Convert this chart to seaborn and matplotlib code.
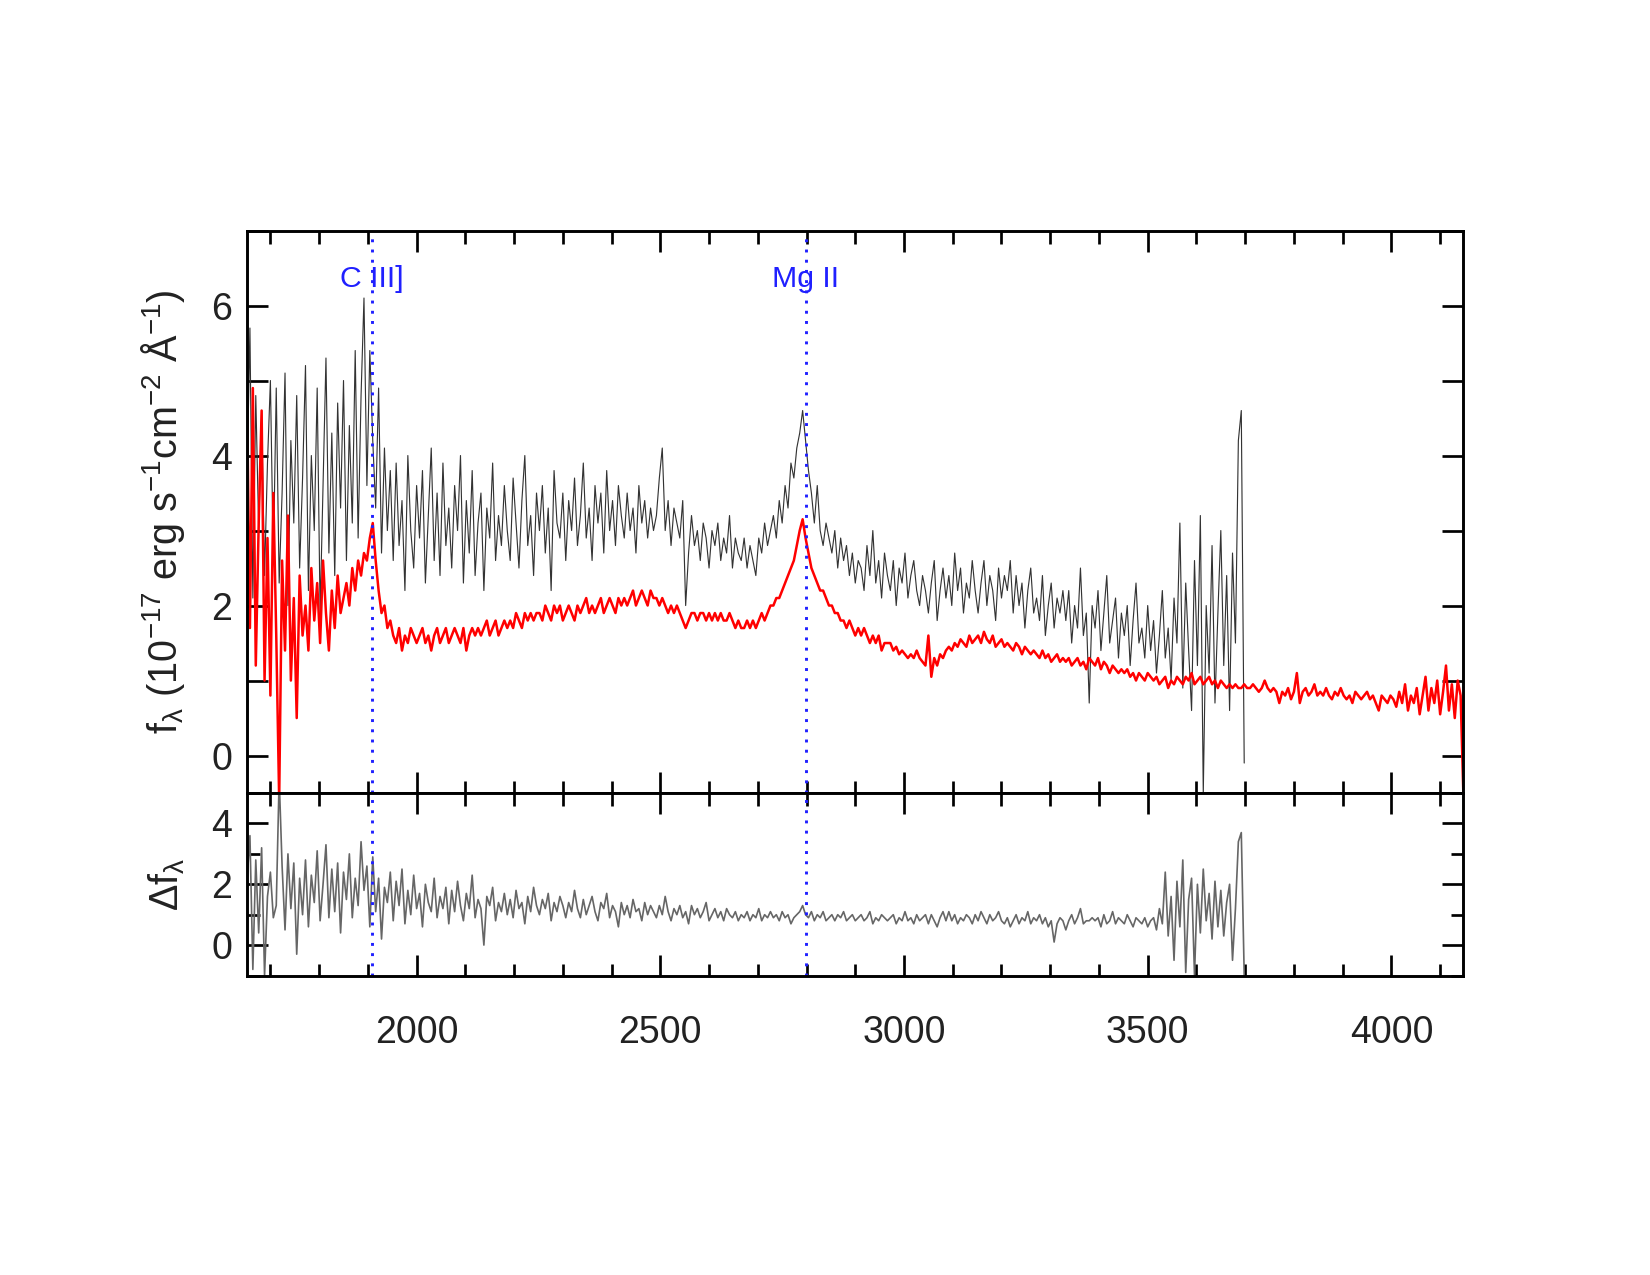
import numpy as np
import pandas as pd
import seaborn as sns
import matplotlib as mpl
from matplotlib import pyplot as plt
from matplotlib.ticker import MultipleLocator

WAVE_START = 1652
WAVE_STEP = 6

flux_obs = [
    3.6, 5.7, 2.1, 4.8, 3.0, 4.6, 2.4, 3.9, 5.0, 2.6,
    4.9, 2.3, 3.5, 5.1, 2.0, 4.2, 3.1, 4.8, 2.5, 3.7,
    5.2, 2.2, 4.0, 3.0, 4.9, 1.9, 3.6, 5.3, 2.7, 4.3,
    2.4, 4.7, 3.3, 5.0, 2.6, 4.4, 3.1, 5.4, 2.9, 4.8,
    6.1, 3.6, 5.4, 4.2, 3.3, 4.9, 2.7, 4.1, 3.0, 3.8,
    2.6, 3.9, 2.8, 3.4, 2.2, 4.0, 3.0, 2.5, 3.6, 2.9,
    3.8, 2.3, 3.2, 4.1, 2.6, 3.5, 2.4, 3.9, 2.8, 3.3,
    2.5, 3.6, 3.0, 4.0, 2.3, 3.4, 2.7, 3.8, 2.4, 3.1,
    3.5, 2.2, 3.3, 2.9, 3.9, 2.6, 3.2, 2.8, 3.6, 3.0,
    2.6, 3.7, 3.1, 2.5, 3.4, 4.0, 2.8, 3.2, 2.4, 3.5,
    3.0, 3.6, 2.7, 3.3, 2.2, 3.8, 3.1, 2.9, 3.5, 2.6,
    3.4, 3.0, 3.7, 2.8, 3.2, 3.9, 2.9, 3.3, 2.6, 3.6,
    3.1, 3.5, 2.7, 3.8, 3.0, 3.4, 2.8, 3.6, 3.2, 2.9,
    3.5, 3.0, 3.3, 2.7, 3.6, 3.1, 3.4, 2.9, 3.3, 3.0,
    3.2, 3.7, 4.1, 3.0, 3.4, 2.8, 3.3, 3.1, 2.9, 3.4,
    2.0, 2.7, 3.2, 2.8, 3.0, 2.6, 3.1, 2.9, 2.5, 3.0,
    2.8, 3.1, 2.6, 2.9, 2.7, 3.2, 2.5, 2.9, 2.7, 2.6,
    2.9, 2.5, 2.8, 2.6, 2.4, 2.9, 2.7, 3.1, 2.8, 3.0,
    3.2, 2.9, 3.4, 3.1, 3.6, 3.3, 3.9, 3.7, 4.1, 4.3,
    4.6, 4.2, 3.8, 3.5, 3.1, 3.6, 3.0, 2.8, 3.1, 2.9,
    2.7, 3.0, 2.5, 2.9, 2.6, 2.8, 2.4, 2.7, 2.3, 2.6,
    2.5, 2.2, 2.8, 2.4, 3.0, 2.3, 2.6, 2.1, 2.7, 2.4,
    2.2, 2.6, 2.0, 2.5, 2.3, 2.7, 2.1, 2.4, 2.6, 2.2,
    2.0, 2.4, 2.2, 1.9, 2.3, 2.6, 1.8, 2.2, 2.5, 2.1,
    2.4, 2.0, 2.7, 2.2, 2.5, 1.9, 2.3, 2.1, 2.6, 2.2,
    1.9, 2.3, 2.6, 2.0, 2.4, 2.2, 1.8, 2.5, 2.1, 2.4,
    2.2, 2.6, 1.9, 2.4, 2.0, 2.3, 1.7, 2.2, 2.5, 1.9,
    2.1, 1.8, 2.4, 1.6, 2.0, 2.3, 1.7, 2.1, 1.9, 2.2,
    1.8, 2.2, 1.5, 2.0, 1.7, 2.5, 1.6, 1.9, 0.7, 2.0,
    1.7, 2.2, 1.4, 1.9, 2.4, 1.5, 1.8, 2.1, 1.3, 1.9,
    1.6, 2.0, 1.2, 1.8, 2.3, 1.5, 1.7, 1.3, 2.0, 1.4,
    1.8, 1.1, 1.6, 2.2, 1.3, 1.7, 1.0, 2.1, 1.5, 3.1,
    0.9, 2.3, 1.4, 0.6, 2.6, 1.2, 3.2, -0.5, 2.0, 1.1,
    2.8, 0.7, 1.9, 3.0, 1.2, 2.4, 0.6, 2.7, 1.5, 4.2,
    4.6, -0.1,
]

flux_model = [
    4.8, 1.7, 4.9, 1.2, 3.1, 4.6, 1.0, 2.9, 0.8, 3.5,
    1.6, -0.6, 2.6, 1.4, 3.2, 1.0, 2.1, 0.5, 2.4, 1.6,
    2.0, 1.4, 2.5, 1.8, 2.3, 1.5, 2.6, 1.9, 1.4, 2.2,
    1.7, 2.4, 1.9, 2.1, 2.3, 2.0, 2.5, 2.2, 2.6, 2.4,
    2.7, 2.6, 2.9, 3.1, 2.6, 2.2, 1.9, 2.0, 1.7, 1.8,
    1.6, 1.5, 1.7, 1.4, 1.6, 1.5, 1.7, 1.6, 1.5, 1.6,
    1.7, 1.5, 1.6, 1.4, 1.6, 1.7, 1.5, 1.6, 1.7, 1.5,
    1.6, 1.7, 1.6, 1.5, 1.7, 1.4, 1.6, 1.7, 1.6, 1.7,
    1.6, 1.7, 1.8, 1.6, 1.7, 1.8, 1.6, 1.7, 1.8, 1.7,
    1.8, 1.7, 1.9, 1.8, 1.7, 1.9, 1.8, 1.9, 1.8, 1.9,
    1.9, 1.8, 2.0, 1.9, 1.8, 2.0, 1.9, 2.0, 1.8, 1.9,
    2.0, 1.9, 1.8, 2.0, 1.9, 2.0, 2.1, 1.9, 2.0, 1.9,
    2.0, 2.1, 1.9, 2.0, 2.1, 2.0, 1.9, 2.1, 2.0, 2.1,
    2.0, 2.1, 2.2, 2.0, 2.1, 2.2, 2.1, 2.0, 2.2, 2.1,
    2.1, 2.0, 2.1, 2.0, 1.9, 2.0, 1.9, 2.0, 1.9, 1.8,
    1.7, 1.8, 1.9, 1.9, 1.8, 1.9, 1.9, 1.8, 1.9, 1.8,
    1.9, 1.8, 1.9, 1.8, 1.8, 1.9, 1.8, 1.7, 1.8, 1.7,
    1.7, 1.8, 1.7, 1.8, 1.7, 1.8, 1.9, 1.8, 1.9, 2.0,
    2.0, 2.1, 2.1, 2.2, 2.3, 2.4, 2.5, 2.6, 2.8, 3.0,
    3.15, 2.9, 2.7, 2.5, 2.4, 2.3, 2.2, 2.2, 2.1, 2.0,
    2.0, 1.9, 1.9, 1.8, 1.8, 1.7, 1.8, 1.7, 1.6, 1.7,
    1.6, 1.7, 1.6, 1.5, 1.6, 1.5, 1.6, 1.4, 1.5, 1.5,
    1.5, 1.4, 1.45, 1.35, 1.4, 1.35, 1.3, 1.35, 1.3, 1.4,
    1.3, 1.25, 1.2, 1.6, 1.05, 1.3, 1.2, 1.35, 1.3, 1.4,
    1.45, 1.4, 1.5, 1.45, 1.55, 1.5, 1.45, 1.6, 1.5, 1.55,
    1.6, 1.5, 1.65, 1.55, 1.5, 1.6, 1.45, 1.5, 1.55, 1.45,
    1.5, 1.45, 1.4, 1.5, 1.45, 1.35, 1.45, 1.4, 1.35, 1.4,
    1.35, 1.3, 1.4, 1.3, 1.35, 1.25, 1.3, 1.35, 1.25, 1.3,
    1.25, 1.3, 1.2, 1.25, 1.3, 1.2, 1.25, 1.15, 1.3, 1.25,
    1.2, 1.3, 1.15, 1.25, 1.2, 1.1, 1.2, 1.15, 1.1, 1.15,
    1.1, 1.15, 1.05, 1.1, 1.0, 1.1, 1.05, 1.0, 1.1, 1.05,
    1.0, 1.05, 0.95, 1.0, 1.05, 0.9, 1.0, 0.95, 1.05, 1.0,
    0.95, 1.05, 1.0, 1.1, 0.95, 1.0, 1.05, 0.95, 1.0, 1.05,
    0.95, 1.0, 0.9, 1.0, 0.95, 0.9, 0.95, 0.9, 0.95, 0.9,
    0.9, 0.95, 0.9, 0.9, 0.95, 0.9, 0.85, 0.9, 1.0, 0.9,
    0.85, 0.9, 0.85, 0.7, 0.85, 0.8, 0.9, 0.75, 0.85, 1.1,
    0.7, 0.85, 0.9, 0.8, 0.85, 0.95, 0.8, 0.85, 0.8, 0.9,
    0.8, 0.75, 0.85, 0.8, 0.9, 0.8, 0.75, 0.8, 0.7, 0.85,
    0.8, 0.75, 0.8, 0.85, 0.75, 0.8, 0.7, 0.6, 0.8, 0.75,
    0.7, 0.8, 0.75, 0.65, 0.85, 0.7, 0.95, 0.6, 0.8, 0.7,
    0.9, 0.55, 0.8, 1.05, 0.6, 0.9, 0.7, 1.0, 0.55, 0.85,
    1.2, 0.6, 0.95, 0.5, 1.0, 0.8, -0.6,
]

flux_resid = [
    2.1, 3.6, -0.8, 2.8, 0.4, 3.2, -1.0, 1.6, 2.4, 0.9,
    1.3, 5.5, 2.6, 0.5, 3.0, 1.2, 2.7, -0.3, 2.2, 1.0,
    2.8, 0.6, 2.3, 1.4, 3.1, 0.8, 2.0, 3.3, 0.9, 2.5,
    1.1, 2.7, 0.4, 2.4, 1.5, 3.0, 0.9, 2.2, 1.3, 3.4,
    1.8, 2.6, 0.6, 2.9, 1.1, 2.2, 0.2, 1.9, 1.4, 2.4,
    0.8, 2.1, 1.3, 2.5, 0.7, 1.8, 1.0, 2.3, 1.2, 1.7,
    0.6, 2.0, 1.4, 1.1, 2.2, 0.9, 1.6, 1.2, 1.9, 0.7,
    1.8, 1.1, 2.1, 1.3, 0.8, 1.7, 1.2, 2.3, 0.9, 1.5,
    1.2, 0.0, 1.6, 1.3, 1.9, 0.8, 1.4, 1.1, 1.7, 1.0,
    1.5, 0.9, 1.8, 1.2, 1.4, 0.7, 1.6, 1.1, 1.9, 1.3,
    1.0, 1.5, 1.2, 1.7, 0.8, 1.4, 1.1, 1.6, 1.3, 0.9,
    1.4, 1.1, 1.8, 1.2, 0.9, 1.5, 1.0, 1.3, 1.6, 1.1,
    0.8, 1.4, 1.2, 1.7, 0.9, 1.3, 1.1, 0.6, 1.4, 1.0,
    1.3, 0.9, 1.5, 1.1, 1.2, 0.8, 1.4, 1.0, 1.3, 1.1,
    0.9, 1.3, 1.0, 1.6, 1.1, 0.8, 1.2, 1.0, 1.3, 0.9,
    1.1, 0.7, 1.3, 1.0, 1.2, 0.9, 1.1, 1.4, 0.8, 1.0,
    1.2, 0.9, 1.1, 0.8, 1.2, 1.0, 0.9, 1.1, 0.8, 1.0,
    0.9, 1.1, 0.8, 1.0, 0.9, 1.2, 0.8, 1.0, 0.9, 1.1,
    0.9, 1.0, 0.8, 1.1, 0.9, 1.0, 0.7, 0.9, 1.0, 1.1,
    1.3, 1.0, 0.9, 1.1, 0.8, 1.0, 0.9, 1.1, 0.8, 0.9,
    1.0, 0.8, 1.0, 0.9, 1.1, 0.8, 0.9, 1.0, 0.8, 0.9,
    1.0, 0.8, 0.9, 1.1, 0.7, 0.9, 0.8, 1.0, 0.9, 0.8,
    0.9, 1.0, 0.7, 0.9, 0.8, 1.1, 0.8, 0.9, 0.7, 1.0,
    0.8, 0.9, 1.0, 0.7, 1.0, 0.8, 0.6, 0.9, 1.1, 0.8,
    1.1, 0.8, 1.0, 0.7, 0.9, 0.8, 1.0, 0.9, 0.7, 1.0,
    0.8, 1.1, 0.9, 0.7, 1.0, 0.8, 0.9, 1.1, 0.8, 0.7,
    0.9, 0.6, 0.8, 1.0, 0.7, 0.9, 0.8, 1.1, 0.7, 0.9,
    0.8, 1.0, 0.7, 0.9, 0.6, 0.8, 0.1, 0.7, 0.9, 0.8,
    0.5, 0.8, 1.0, 0.7, 0.9, 1.2, 0.7, 0.8, 0.8, 0.9,
    0.8, 0.9, 0.6, 1.0, 0.7, 0.8, 1.1, 0.7, 0.9, 0.8,
    0.7, 1.0, 0.8, 0.6, 0.9, 0.8, 0.7, 0.9, 0.6, 0.8,
    0.9, 0.5, 1.2, 0.7, 2.4, 0.3, 1.6, -0.5, 2.1, 0.6,
    2.8, -0.9, 1.5, 2.2, -1.0, 2.0, 0.4, 2.5, 0.8, 1.7,
    0.2, 2.1, 0.6, 1.8, 0.3, 1.4, 2.0, -0.5, 1.2, 3.4,
    3.7, -1.0,
]

line_names = ["C III]", "Mg II"]
line_waves = [1909, 2798]


def spectrum_frame(values):
    wave = WAVE_START + WAVE_STEP * np.arange(len(values))
    return pd.DataFrame({"wave": wave, "flux": values})


sns.set_theme(style="ticks")
plt.rcParams["font.family"] = ["Liberation Sans", "DejaVu Sans"]
plt.rcParams["mathtext.fontset"] = "custom"
plt.rcParams["mathtext.rm"] = "Liberation Sans"
plt.rcParams["mathtext.it"] = "Liberation Sans"
plt.rcParams["mathtext.default"] = "regular"

TEXT = "#222222"

fig = plt.figure(figsize=(11, 8.5), dpi=150)
ax = fig.add_axes([0.1497, 0.378, 0.737, 0.4412])
ax_res = fig.add_axes([0.1497, 0.2349, 0.737, 0.1431], sharex=ax)

obs_df = spectrum_frame(flux_obs)
model_df = spectrum_frame(flux_model)
resid_df = spectrum_frame(flux_resid)

sns.lineplot(data=obs_df, x="wave", y="flux", ax=ax, color="#333333",
             lw=0.55, estimator=None, sort=False)
sns.lineplot(data=model_df, x="wave", y="flux", ax=ax, color="red",
             lw=1.2, estimator=None, sort=False)
sns.lineplot(data=resid_df, x="wave", y="flux", ax=ax_res, color="#666666",
             lw=0.8, estimator=None, sort=False)

for name, wave in zip(line_names, line_waves):
    for a in (ax, ax_res):
        a.axvline(wave, color="#2020ff", linestyle=(0, (1, 2.5)), lw=1.4)
    ax.text(wave, 6.35, name, color="#2020ff", ha="center", va="center",
            fontsize=14.5)

ax.set_xlim(1652, 4147)
ax.set_ylim(-0.5, 7)
ax_res.set_ylim(-1, 5)

ax.xaxis.set_major_locator(MultipleLocator(500))
ax.xaxis.set_minor_locator(MultipleLocator(100))
ax.yaxis.set_major_locator(MultipleLocator(2))
ax.yaxis.set_minor_locator(MultipleLocator(1))
ax_res.yaxis.set_major_locator(MultipleLocator(2))
ax_res.yaxis.set_minor_locator(MultipleLocator(1))

for a in (ax, ax_res):
    a.tick_params(which="both", direction="in", top=True, right=True,
                  width=1.3, colors="black", labelcolor=TEXT, labelsize=18)
    a.tick_params(which="major", length=10)
    a.tick_params(which="minor", length=6)
    a.tick_params(axis="y", pad=7)
    a.tick_params(axis="x", pad=19)
    for spine in a.spines.values():
        spine.set_linewidth(1.4)
        spine.set_color("black")
ax.tick_params(axis="y", which="minor", length=10)
ax.tick_params(axis="x", labelbottom=False)

ax.set_xlabel("")
ax_res.set_xlabel("")
ax.set_ylabel(r"f$_\lambda$ (10$^{-17}$ erg s$^{-1}$cm$^{-2}$ Å$^{-1}$)",
              fontsize=19, color=TEXT, labelpad=12)
ax_res.set_ylabel(r"$\Delta$f$_\lambda$", fontsize=19, color=TEXT, labelpad=12)

fig.savefig("out.png", dpi=150)
